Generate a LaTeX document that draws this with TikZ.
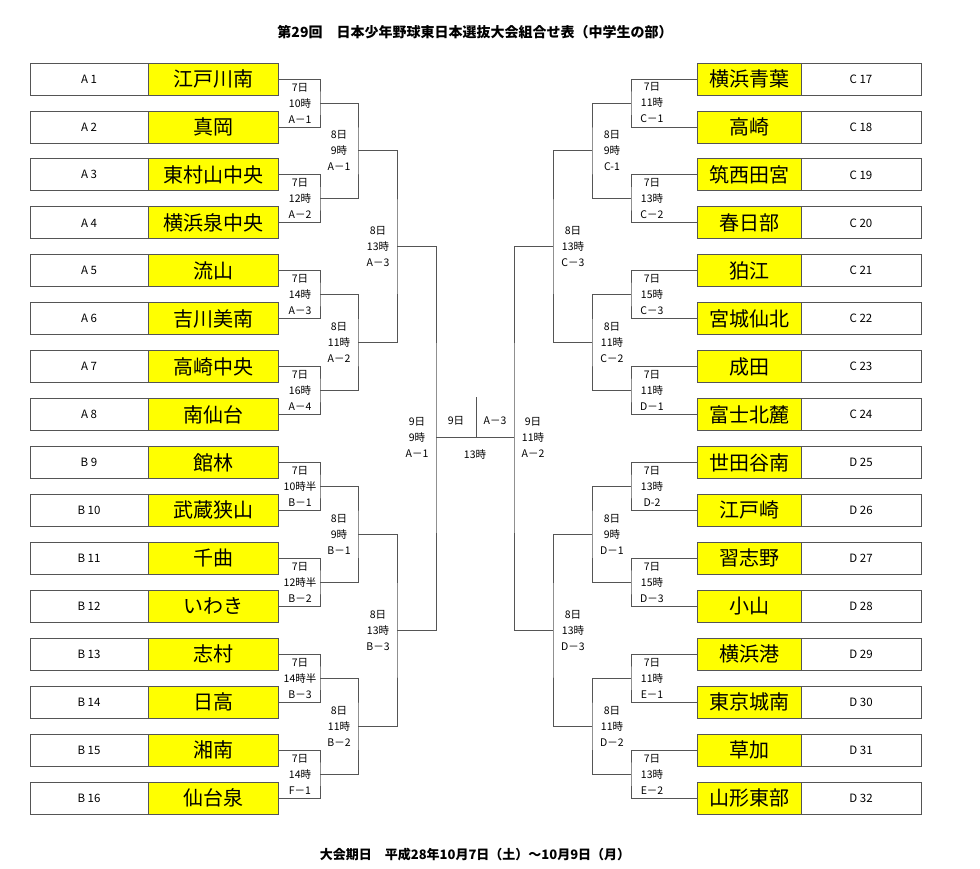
\documentclass[tikz,border=0pt]{standalone}
\usepackage{fontspec}
\setmainfont{Noto Sans CJK JP}
\definecolor{ny}{HTML}{FFFF00}
\definecolor{ln}{HTML}{555555}
\begin{document}
\begin{tikzpicture}[x=1pt,y=-1pt,
  lab/.style={draw=ln,line width=0.8pt,minimum width=118pt,minimum height=32pt,inner sep=0pt,font=\fontsize{11.5}{13}\selectfont},
  nm/.style={draw=ln,line width=0.8pt,fill=ny,minimum height=32pt,inner sep=0pt,font=\fontsize{20}{22}\selectfont},
  br/.style={draw=ln,line width=0.8pt},
  info/.style={align=center,inner sep=0pt,font=\fontsize{10.5}{16}\selectfont}]
\useasboundingbox (0,0) rectangle (980,869);
\node[font=\bfseries\fontsize{14}{16}\selectfont] (title) at (475,32) {第29回　日本少年野球東日本選抜大会組合せ表（中学生の部）};
\node[font=\bfseries\fontsize{13}{15}\selectfont] (foot) at (475,855) {大会期日　平成28年10月7日（土）～10月9日（月）};
% left boxes
\foreach \i/\l/\n in {1/A 1/江戸川南,2/A 2/真岡,3/A 3/東村山中央,4/A 4/横浜泉中央,5/A 5/流山,6/A 6/吉川美南,7/A 7/高崎中央,8/A 8/南仙台,9/B 9/館林,10/B 10/武蔵狭山,11/B 11/千曲,12/B 12/いわき,13/B 13/志村,14/B 14/日高,15/B 15/湘南,16/B 16/仙台泉}{
  \pgfmathsetmacro\yy{79+(\i-1)*47.93}
  \node[lab] (LL\i) at (89,\yy) {\l};
  \node[nm,minimum width=130pt] (LN\i) at (213,\yy) {\n};
}
\foreach \i/\l/\n in {1/C 17/横浜青葉,2/C 18/高崎,3/C 19/筑西田宮,4/C 20/春日部,5/C 21/狛江,6/C 22/宮城仙北,7/C 23/成田,8/C 24/富士北麓,9/D 25/世田谷南,10/D 26/江戸崎,11/D 27/習志野,12/D 28/小山,13/D 29/横浜港,14/D 30/東京城南,15/D 31/草加,16/D 32/山形東部}{
  \pgfmathsetmacro\yy{79+(\i-1)*47.93}
  \node[nm,minimum width=104pt] (RN\i) at (749,\yy) {\n};
  \node[lab,minimum width=120pt] (RL\i) at (861,\yy) {\l};
}
% round 1 brackets
\foreach \k in {1,...,8}{
  \pgfmathtruncatemacro\a{2*\k-1}
  \pgfmathtruncatemacro\b{2*\k}
  \pgfmathsetmacro\m{79+(\a-1)*47.93+23.96}
  \coordinate (la\k) at (320,\m);
  \coordinate (ra\k) at (631,\m);
  \draw[br] (LN\a.east) -| (la\k) |- (LN\b.east);
  \draw[br] (RN\a.west) -| (ra\k) |- (RN\b.west);
}
% round 2
\foreach \j in {1,...,4}{
  \pgfmathtruncatemacro\a{2*\j-1}
  \pgfmathtruncatemacro\b{2*\j}
  \pgfmathsetmacro\m{79+(4*\j-4)*47.93+71.9}
  \coordinate (lb\j) at (358,\m);
  \coordinate (rb\j) at (592,\m);
  \draw[br] (la\a) -| (lb\j) |- (la\b);
  \draw[br] (ra\a) -| (rb\j) |- (ra\b);
}
% round 3
\foreach \j in {1,2}{
  \pgfmathtruncatemacro\a{2*\j-1}
  \pgfmathtruncatemacro\b{2*\j}
  \pgfmathsetmacro\m{79+(8*\j-8)*47.93+167.8}
  \coordinate (lc\j) at (397,\m);
  \coordinate (rc\j) at (553,\m);
  \draw[br] (lb\a) -| (lc\j) |- (lb\b);
  \draw[br] (rb\a) -| (rc\j) |- (rb\b);
}
\coordinate (ld) at (436,437.5);
\coordinate (rd) at (514,437.5);
\coordinate (ct) at (476,397);
\draw[br] (lc1) -| (ld) |- (lc2);
\draw[br] (rc1) -| (rd) |- (rc2);
\draw[br] (ld) -- (rd);
\draw[br] (ct) -- (ct |- ld);
% labels
\foreach \k/\t/\c in {1/10時/A－1,2/12時/A－2,3/14時/A－3,4/16時/A－4,5/10時半/B－1,6/12時半/B－2,7/14時半/B－3,8/14時/F－1}{
  \pgfmathsetmacro\m{79+(2*\k-2)*47.93+23.96}
  \node[info] (li\k) at (300,\m) {7日\\\t\\\c};
}
\foreach \k/\t/\c in {1/11時/C－1,2/13時/C－2,3/15時/C－3,4/11時/D－1,5/13時/D-2,6/15時/D－3,7/11時/E－1,8/13時/E－2}{
  \pgfmathsetmacro\m{79+(2*\k-2)*47.93+23.96}
  \node[info] (ri\k) at (652,\m) {7日\\\t\\\c};
}
\foreach \j/\t/\c/\d/\e in {1/9時/A－1/9時/C-1,2/11時/A－2/11時/C－2,3/9時/B－1/9時/D－1,4/11時/B－2/11時/D－2}{
  \pgfmathsetmacro\m{79+(4*\j-4)*47.93+71.9}
  \node[info] (lj\j) at (339,\m) {8日\\\t\\\c};
  \node[info] (rj\j) at (612,\m) {8日\\\d\\\e};
}
\foreach \j/\c/\e in {1/A－3/C－3,2/B－3/D－3}{
  \pgfmathsetmacro\m{79+(8*\j-8)*47.93+167.8}
  \node[info] (lk\j) at (378,\m) {8日\\13時\\\c};
  \node[info] (rk\j) at (573,\m) {8日\\13時\\\e};
}
\node[info] (lf) at (417,437.5) {9日\\9時\\A－1};
\node[info] (rf) at (533,437.5) {9日\\11時\\A－2};
\node[info] (c1) at (456,421) {9日};
\node[info] (c2) at (495,421) {A－3};
\node[info] (c3) at (475,454) {13時};
\end{tikzpicture}
\end{document}
